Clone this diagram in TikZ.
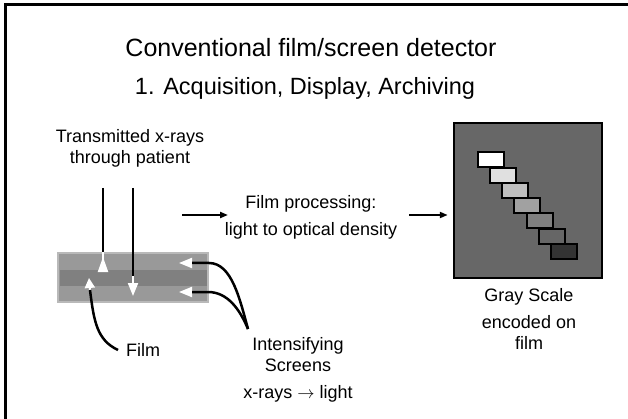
\documentclass[tikz,border=0pt]{standalone}
\usepackage{fontspec}
\setmainfont{Liberation Sans}
\usetikzlibrary{
  arrows.meta,
  positioning,
  calc
}
\definecolor{cscreen}{RGB}{153,153,153}
\definecolor{cfilm}{RGB}{128,128,128}
\definecolor{cedge}{RGB}{185,185,185}
\definecolor{cplate}{RGB}{103,103,103}
\tikzset{
  ray/.style={line width=2.5pt, color=black},
  arr/.style={-{Triangle[length=8pt, width=6pt]}, line width=2.5pt},
  lightarr/.style={-{Triangle[length=#1, width=10pt]}, line width=2pt, color=white},
  lightarr/.default=13pt,
  lbl/.style={font=\fontsize{18}{21}\selectfont, align=center, inner sep=0pt},
  patch/.style={
    rectangle, draw=black, line width=2pt,
    minimum width=26pt, minimum height=15pt, inner sep=0pt
  }
}
\begin{document}
\begin{tikzpicture}[x=1pt, y=-1pt]
  \useasboundingbox (0,0) rectangle (628,419);

  %% ---- frame and titles ------------------------------------------
  \draw[line width=2.7pt] (5.3,419) |- (628,4.7);
  \node[lbl, font=\fontsize{25}{30}\selectfont] (title) at (311,48)
    {Conventional film/screen detector};
  \node[lbl, font=\fontsize{23.5}{28}\selectfont] (subtitle) at (305,88)
    {1. Acquisition, Display, Archiving};

  %% ---- cassette: screens around the film --------------------------
  \node[lbl] (xray) at (130,148) {Transmitted x-rays\\through patient};
  \node[rectangle, fill=cscreen, draw=cedge, line width=2pt,
        minimum width=150pt, minimum height=49pt] (cassette) at (133,277.5) {};
  \node[rectangle, fill=cfilm, minimum width=147pt, minimum height=16pt]
    (film) at (133.5,278) {};

  \coordinate (r1) at (103,188);
  \coordinate (r2) at (133,188);
  \draw[ray] (r1) -- (r1 |- cassette.north);
  \draw[ray] (r2) -- (133,276);
  \draw[white, line width=2pt, -{Triangle[reversed, length=15pt, width=10pt]}]
    (r1 |- cassette.north) -- (103,272);
  \draw[lightarr] (133,276) -- (133,296);

  %% ---- film label ------------------------------------------------
  \node[lbl, anchor=west] (filmlbl) at (126,350) {Film};
  \coordinate (fl) at (90,290);
  \draw[lightarr=10pt] (fl) -- (89,278);
  \draw[ray] (fl) .. controls (94,322) and (97,340) .. ([xshift=-8pt]filmlbl.west);

  %% ---- intensifying screens label --------------------------------
  \node[lbl] (screens) at (298,370)
    {Intensifying\\Screens\\[6pt] x-rays $\rightarrow$ light};
  \coordinate (scr) at (248,329);
  \coordinate (s1) at (192,263);
  \coordinate (s2) at (192,292);
  \draw[lightarr] (s1) -- (179,263);
  \draw[lightarr] (s2) -- (179,292);
  \draw[ray] (s1) -- (209,263) .. controls (232,263) and (240,300) .. (scr);
  \draw[ray] (s2) -- (208,292) .. controls (228,292) and (240,310) .. (scr);

  %% ---- processing step -------------------------------------------
  \node[lbl] (proc) at (311,217) {Film processing:\\[6pt] light to optical density};
  \coordinate (a0) at (182,215);
  \draw[arr] (a0) -- (228,215);

  %% ---- gray scale on film ----------------------------------------
  \node[rectangle, draw=black, fill=cplate, line width=2.5pt,
        minimum width=148pt, minimum height=155pt] (plate) at (528,200.5) {};
  \draw[arr, shorten <=12pt, shorten >=5pt] (proc.east |- a0) -- (a0 -| plate.west);
  \foreach \c [count=\i from 0] in
      {white, black!12, black!25, black!37, black!50, black!60, black!80}
    \node[patch, fill=\c] (p\i) at ({490.5+12.25*\i}, {160+15.25*\i}) {};

  \node[lbl] (gray) at (529,319) {Gray Scale\\[6pt] encoded on\\film};

\end{tikzpicture}
\end{document}
